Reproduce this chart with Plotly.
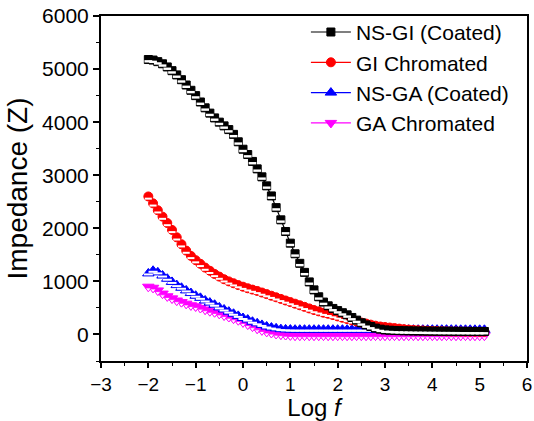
import plotly.graph_objects as go

log_f = [-2.0, -1.9, -1.8, -1.7, -1.6, -1.5, -1.4, -1.3, -1.2, -1.1,
         -1.0, -0.9, -0.8, -0.7, -0.6, -0.5, -0.4, -0.3, -0.2, -0.1,
         0.0, 0.1, 0.2, 0.3, 0.4, 0.5, 0.6, 0.7, 0.8, 0.9,
         1.0, 1.1, 1.2, 1.3, 1.4, 1.5, 1.6, 1.7, 1.8, 1.9,
         2.0, 2.1, 2.2, 2.3, 2.4, 2.5, 2.6, 2.7, 2.8, 2.9,
         3.0, 3.1, 3.2, 3.3, 3.4, 3.5, 3.6, 3.7, 3.8, 3.9,
         4.0, 4.1, 4.2, 4.3, 4.4, 4.5, 4.6, 4.7, 4.8, 4.9,
         5.0, 5.1]

ns_gi = [5180, 5170, 5140, 5100, 5040, 4970, 4890, 4800, 4700, 4600,
         4500, 4380, 4270, 4170, 4080, 4000, 3930, 3860, 3770, 3630,
         3490, 3390, 3260, 3120, 2970, 2800, 2610, 2390, 2160, 1940,
         1720, 1520, 1340, 1170, 990, 840, 710, 610, 540, 490,
         450, 410, 370, 320, 270, 220, 180, 150, 120, 100,
         85, 80, 75, 72, 70, 68, 66, 65, 64, 63,
         62, 61, 60, 60, 59, 59, 58, 58, 57, 57,
         56, 56]

gi_chromated = [2600, 2470, 2340, 2220, 2100, 1970, 1830, 1700, 1580, 1480,
                1400, 1330, 1260, 1200, 1140, 1090, 1040, 1000, 965, 930,
                900, 870, 845, 820, 790, 760, 730, 700, 670, 640,
                610, 580, 550, 520, 490, 460, 435, 410, 390, 365,
                340, 315, 290, 265, 245, 225, 205, 185, 165, 150,
                140, 130, 120, 110, 100, 92, 86, 80, 75, 70,
                66, 63, 60, 58, 56, 55, 54, 53, 52, 51,
                50, 50]

ns_ga = [1150, 1200, 1170, 1110, 1050, 990, 930, 880, 830, 780,
         730, 690, 640, 600, 560, 510, 470, 430, 390, 350,
         310, 280, 240, 210, 180, 150, 130, 115, 100, 95,
         92, 90, 90, 90, 90, 90, 90, 90, 90, 90,
         90, 90, 90, 90, 90, 90, 90, 90, 90, 90,
         90, 90, 90, 90, 90, 90, 90, 90, 90, 90,
         90, 90, 90, 90, 90, 90, 88, 88, 88, 88,
         88, 88]

ga_chromated = [900, 880, 830, 770, 720, 680, 640, 610, 580, 550,
                530, 500, 470, 440, 420, 390, 360, 330, 300, 270,
                230, 190, 150, 110, 80, 50, 30, 10, 0, -10,
                -15, -20, -20, -20, -20, -20, -20, -20, -20, -20,
                -20, -20, -20, -20, -20, -20, -20, -20, -20, -20,
                -20, -20, -20, -20, -20, -20, -20, -20, -20, -20,
                -20, -20, -20, -20, -20, -20, -20, -20, -20, -20,
                -20, -20]

names = ["NS-GI (Coated)", "GI Chromated", "NS-GA (Coated)", "GA Chromated"]
colors = ["#000000", "#FF0000", "#0000FF", "#FF00FF"]

W, H = 534, 421
ML, MR, MT, MB = 101, 7, 16, 60
Y_RANGE = [-500, 6000]
X_RANGE = [-3, 6]
plot_h = H - MT - MB
data_per_px = (Y_RANGE[1] - Y_RANGE[0]) / plot_h

def shift(vals, px):
    return [v - px * data_per_px for v in vals]

FONT = "Liberation Sans, Arial, sans-serif"

fig = go.Figure()

series = [
    (names[3], ga_chromated, colors[3], "triangle-down", 10,
     dict(symbol="triangle-down", size=5, fill="white", lc=colors[3], lw=0.8, dy=2.5)),
    (names[2], ns_ga, colors[2], "triangle-up", 10,
     dict(symbol="line-ew", size=6.5, fill="white", lc="white", lw=2.0, dy=1.0)),
    (names[1], gi_chromated, colors[1], "circle", 9,
     dict(symbol="line-ew", size=5, fill="white", lc="white", lw=2.0, dy=2.2)),
    (names[0], ns_gi, colors[0], "square", 8,
     dict(symbol="line-ew", size=5.5, fill="white", lc="white", lw=2.4, dy=1.8)),
]

for name, vals, col, sym, size, ov in series:
    fig.add_trace(go.Scatter(
        x=log_f, y=vals, name=name, mode="lines+markers",
        legendgroup=name,
        line=dict(color=col, width=1.2),
        marker=dict(symbol=sym, size=size, color=col,
                    line=dict(color=col, width=1)),
    ))
    fig.add_trace(go.Scatter(
        x=log_f, y=shift(vals, ov["dy"]), mode="markers",
        legendgroup=name, showlegend=False, hoverinfo="skip",
        marker=dict(symbol=ov["symbol"], size=ov["size"], color=ov["fill"],
                    line=dict(color=ov["lc"], width=ov["lw"])),
    ))

axis_common = dict(
    showline=True, linecolor="black", linewidth=2, mirror=True,
    ticks="outside", tickwidth=1.6, tickcolor="black",
    showgrid=False, zeroline=False, automargin=False,
)

fig.update_xaxes(
    range=X_RANGE, dtick=1, tick0=0, ticklen=5,
    tickfont=dict(family=FONT, size=19, color="black"),
    title=dict(text="Log <i>f</i>", font=dict(family=FONT, size=24, color="black"), standoff=1),
    minor=dict(ticks="outside", ticklen=3, tickwidth=1.4, tickcolor="black", dtick=0.5),
    **axis_common,
)
fig.update_yaxes(
    range=Y_RANGE, dtick=1000, tick0=0, ticklen=6,
    tickfont=dict(family=FONT, size=21, color="black"),
    title=dict(text="Impedance (Z)", font=dict(family=FONT, size=28, color="black"), standoff=6),
    minor=dict(ticks="outside", ticklen=3.5, tickwidth=1.4, tickcolor="black", dtick=500),
    **axis_common,
)

fig.update_layout(
    width=W, height=H,
    margin=dict(l=ML, r=MR, t=MT, b=MB),
    paper_bgcolor="white", plot_bgcolor="white",
    font=dict(family=FONT, color="black"),
    legend=dict(
        x=0.481, y=1.012, xanchor="left", yanchor="top",
        traceorder="reversed",
        font=dict(family=FONT, size=21, color="black"),
        bgcolor="rgba(0,0,0,0)", borderwidth=0,
        itemwidth=40, tracegroupgap=0,
    ),
    showlegend=True,
)

fig.write_html("out.html")
